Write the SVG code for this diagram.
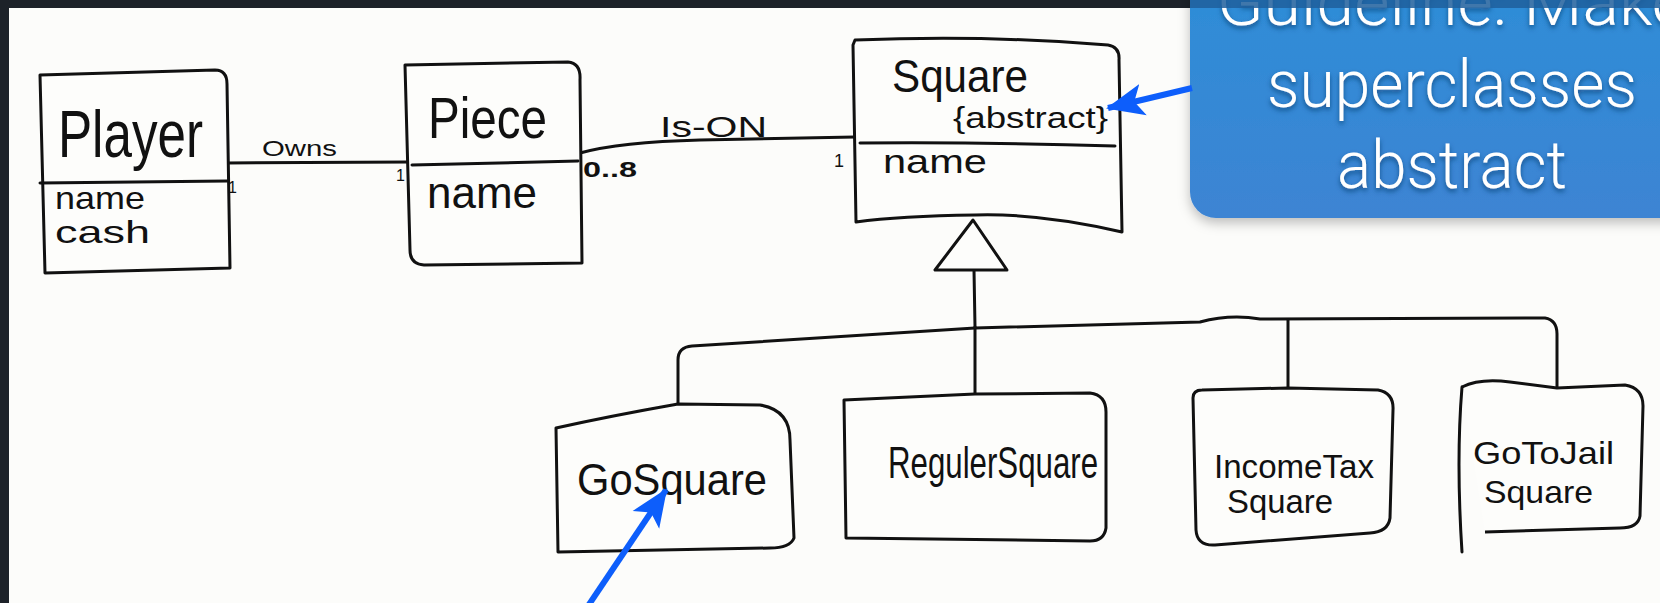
<svg xmlns="http://www.w3.org/2000/svg" width="1660" height="603" viewBox="0 0 1660 603">
<style>
.ink{fill:none;stroke:#111;stroke-width:3;stroke-linecap:round;stroke-linejoin:round}
.box{fill:#fdfdfb;stroke:#111;stroke-width:3;stroke-linejoin:round}
.hw{font-family:"Liberation Sans",Arial,sans-serif;fill:#111}
.blue{fill:none;stroke:#0d5efb;stroke-width:6;stroke-linecap:butt}
.note{font-family:Roboto,"Liberation Sans",sans-serif;font-weight:300;fill:#ffffff;text-anchor:middle;font-size:66px}
</style>
<defs>
<marker id="bh" markerUnits="userSpaceOnUse" markerWidth="40" markerHeight="34" refX="36" refY="17" orient="auto">
<path d="M0,1 L38,17 L0,33 L9,17 Z" fill="#0d5efb"/>
</marker>
<linearGradient id="cg" x1="0" y1="0" x2="0" y2="1">
<stop offset="0" stop-color="#2a8fd8"/>
<stop offset="1" stop-color="#3d84d3"/>
</linearGradient>
<filter id="sh" x="-20%" y="-20%" width="140%" height="150%">
<feDropShadow dx="0" dy="5" stdDeviation="6" flood-color="#000" flood-opacity="0.25"/>
</filter>
<filter id="ts" x="-10%" y="-20%" width="120%" height="150%">
<feDropShadow dx="0" dy="3" stdDeviation="2.5" flood-color="#123e70" flood-opacity="0.75"/>
</filter>
</defs>
<rect x="0" y="0" width="1660" height="603" fill="#fcfcfa"/>
<rect x="0" y="0" width="9" height="603" fill="#1d2229"/>
<rect x="0" y="0" width="1660" height="8" fill="#1d2229"/>

<g id="connectors">
<path class="ink" d="M227,163 L410,162"/>
<path class="ink" d="M580,153 Q620,142 700,140 L855,137"/>
<path class="ink" d="M974,270 L975,327"/>
<path class="ink" d="M678,404 L678,360 Q678,347 692,346 L975,328 L1200,322 Q1230,314 1260,319 L1545,318 Q1557,320 1557,334 L1557,388"/>
<path class="ink" d="M975,327 L975,394"/>
<path class="ink" d="M1288,320 L1288,390"/>
<path class="box" d="M973,220 L935,270 L1007,270 Z"/>
<text class="hw" x="262" y="156" font-size="22" textLength="75" lengthAdjust="spacingAndGlyphs">Owns</text>
<text class="hw" x="228" y="193" font-size="16">1</text>
<text class="hw" x="396" y="181" font-size="16">1</text>
<text class="hw" x="660" y="137" font-size="30" textLength="107" lengthAdjust="spacingAndGlyphs">Is-ON</text>
<text class="hw" x="583" y="177" font-size="22" font-weight="bold" textLength="54" lengthAdjust="spacingAndGlyphs">0..8</text>
<text class="hw" x="834" y="167" font-size="18">1</text>
</g>

<g id="player">
<path class="box" d="M40,75 L215,70 Q227,70 227,84 L230,268 L45,273 Z"/>
<path class="ink" d="M40,183 L227,181"/>
<text class="hw" x="58" y="157" font-size="66" textLength="145" lengthAdjust="spacingAndGlyphs">Player</text>
<text class="hw" x="55" y="209" font-size="32" textLength="90" lengthAdjust="spacingAndGlyphs">name</text>
<text class="hw" x="55" y="243" font-size="32" textLength="95" lengthAdjust="spacingAndGlyphs">cash</text>
</g>

<g id="piece">
<path class="box" d="M405,65 L568,62 Q581,63 580,80 L582,263 L424,265 Q410,264 410,250 Z"/>
<path class="ink" d="M412,165 L578,161"/>
<text class="hw" x="428" y="138" font-size="58" textLength="119" lengthAdjust="spacingAndGlyphs">Piece</text>
<text class="hw" x="427" y="208" font-size="44" textLength="110" lengthAdjust="spacingAndGlyphs">name</text>
</g>

<g id="square">
<path class="box" d="M853,45 L855,40 Q990,35 1108,45 Q1120,47 1119,60 L1122,232 Q1040,213 975,215 Q900,216 856,222 Z"/>
<path class="ink" d="M860,143 Q990,142 1115,146"/>
<text class="hw" x="892" y="92" font-size="46" textLength="136" lengthAdjust="spacingAndGlyphs">Square</text>
<text class="hw" x="953" y="128" font-size="30" textLength="155" lengthAdjust="spacingAndGlyphs">{abstract}</text>
<text class="hw" x="883" y="173" font-size="34" textLength="104" lengthAdjust="spacingAndGlyphs">name</text>
</g>

<g id="gosquare">
<path class="box" d="M556,428 Q610,416 678,404 L760,405 Q790,410 790,440 L794,538 Q790,548 770,548 L558,552 Z"/>
<text class="hw" x="577" y="495" font-size="44" textLength="190" lengthAdjust="spacingAndGlyphs">GoSquare</text>
</g>

<g id="regularsquare">
<path class="box" d="M844,400 L975,394 L1090,393 Q1106,395 1106,412 L1106,528 Q1104,541 1090,541 L846,538 Z"/>
<text class="hw" x="888" y="478" font-size="44" textLength="210" lengthAdjust="spacingAndGlyphs">RegulerSquare</text>
</g>

<g id="incometaxsquare">
<path class="box" d="M1193,398 Q1193,390 1202,390 L1288,388 L1378,390 Q1394,393 1393,410 L1390,518 Q1388,532 1370,533 L1215,545 Q1197,546 1196,530 Z"/>
<text class="hw" x="1214" y="478" font-size="34" textLength="160" lengthAdjust="spacingAndGlyphs">IncomeTax</text>
<text class="hw" x="1227" y="513" font-size="34" textLength="106" lengthAdjust="spacingAndGlyphs">Square</text>
</g>

<g id="gotojailsquare">
<path class="box" d="M1462,387 Q1480,378 1510,382 L1557,388 L1625,385 Q1643,388 1643,406 L1640,516 Q1638,528 1620,528 L1485,532" fill="#fdfdfb"/>
<path class="ink" d="M1462,387 Q1456,460 1462,552"/>
<text class="hw" x="1473" y="464" font-size="32" textLength="141" lengthAdjust="spacingAndGlyphs">GoToJail</text>
<text class="hw" x="1484" y="503" font-size="32" textLength="109" lengthAdjust="spacingAndGlyphs">Square</text>
</g>

<g id="callout">
<rect x="1190" y="-60" width="540" height="278" rx="26" fill="url(#cg)" filter="url(#sh)"/>
<g filter="url(#ts)">
<text class="note" x="1452" y="25" textLength="470" lengthAdjust="spacingAndGlyphs">Guideline: Make</text>
<text class="note" x="1452" y="107" textLength="370" lengthAdjust="spacingAndGlyphs">superclasses</text>
<text class="note" x="1452" y="188" textLength="230" lengthAdjust="spacingAndGlyphs">abstract</text>
</g>
<rect x="1190" y="0" width="470" height="8" fill="#1f5f9c" opacity="0.85"/>
</g>

<g id="pointers">
<path class="blue" d="M1192,88 L1108,108" marker-end="url(#bh)"/>
<path class="blue" d="M588,606 L666,490" marker-end="url(#bh)"/>
</g>
</svg>
